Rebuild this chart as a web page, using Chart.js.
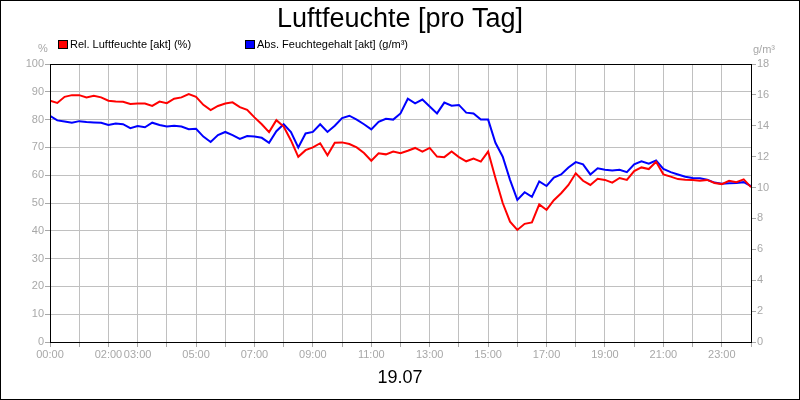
<!DOCTYPE html>
<html>
<head>
<meta charset="utf-8">
<script src="https://cdn.jsdelivr.net/npm/chart.js@4.4.1/dist/chart.umd.min.js"></script>
<style>
  html, body { margin: 0; padding: 0; background: #fff; }
</style>
</head>
<body>
<canvas id="chart1" width="800" height="400"></canvas>
<script>

var TITLE = 'Luftfeuchte [pro Tag]';
var DAY = '19.07';
var SERIES_NAMES = ['Rel. Luftfeuchte [akt] (%)', 'Abs. Feuchtegehalt [akt] (g/m³)'];
var UNITS = ['%', 'g/m³'];
var TICK_HOURS = [0, 2, 3, 5, 7, 9, 11, 13, 15, 17, 19, 21, 23];

var FONT = '"Liberation Sans", Arial, sans-serif';
var GRAY = '#a8a8a8';

// readings every 15 minutes
var times = [
  '00:00','00:15','00:30','00:45','01:00','01:15','01:30','01:45',
  '02:00','02:15','02:30','02:45','03:00','03:15','03:30','03:45',
  '04:00','04:15','04:30','04:45','05:00','05:15','05:30','05:45',
  '06:00','06:15','06:30','06:45','07:00','07:15','07:30','07:45',
  '08:00','08:15','08:30','08:45','09:00','09:15','09:30','09:45',
  '10:00','10:15','10:30','10:45','11:00','11:15','11:30','11:45',
  '12:00','12:15','12:30','12:45','13:00','13:15','13:30','13:45',
  '14:00','14:15','14:30','14:45','15:00','15:15','15:30','15:45',
  '16:00','16:15','16:30','16:45','17:00','17:15','17:30','17:45',
  '18:00','18:15','18:30','18:45','19:00','19:15','19:30','19:45',
  '20:00','20:15','20:30','20:45','21:00','21:15','21:30','21:45',
  '22:00','22:15','22:30','22:45','23:00','23:15','23:30','23:45',
  '24:00'
];

// %
var relHum = [
  86.8, 86.0, 88.2, 88.8, 88.8, 88.0, 88.6, 88.0,
  86.8, 86.5, 86.4, 85.6, 85.8, 85.8, 84.9, 86.5,
  85.9, 87.5, 88.0, 89.2, 88.2, 85.3, 83.4, 84.9,
  85.8, 86.2, 84.5, 83.5, 80.8, 78.3, 75.5, 79.8,
  77.5, 72.5, 66.6, 69.0, 70.0, 71.5, 67.2, 71.7,
  71.8, 71.2, 70.0, 68.0, 65.2, 67.9, 67.5, 68.5,
  67.9, 68.8, 69.8, 68.5, 69.8, 66.7, 66.5, 68.5,
  66.5, 65.0, 66.0, 64.9, 68.5, 59.0, 50.0, 43.3,
  40.3, 42.5, 43.0, 49.5, 47.5, 51.0, 53.5, 56.5,
  60.7, 58.0, 56.5, 58.7, 58.3, 57.3, 59.0, 58.3,
  61.5, 62.8, 62.2, 64.8, 60.3, 59.5, 58.6, 58.4,
  58.3, 58.0, 58.3, 57.2, 56.8, 58.0, 57.5, 58.5,
  55.7
];

// g/m³
var absHum = [
  14.65, 14.35, 14.27, 14.20, 14.30, 14.25, 14.22, 14.20,
  14.05, 14.15, 14.10, 13.85, 13.98, 13.90, 14.20, 14.05,
  13.95, 14.00, 13.95, 13.78, 13.80, 13.30, 12.95, 13.40,
  13.60, 13.40, 13.15, 13.34, 13.30, 13.22, 12.90, 13.65,
  14.10, 13.60, 12.60, 13.50, 13.60, 14.10, 13.60, 14.00,
  14.50, 14.65, 14.40, 14.10, 13.77, 14.25, 14.45, 14.40,
  14.80, 15.75, 15.45, 15.70, 15.25, 14.80, 15.50, 15.30,
  15.35, 14.85, 14.80, 14.40, 14.40, 12.90, 12.00, 10.50,
  9.20, 9.70, 9.40, 10.40, 10.10, 10.65, 10.85, 11.30,
  11.65, 11.50, 10.85, 11.25, 11.15, 11.10, 11.15, 11.00,
  11.50, 11.70, 11.55, 11.75, 11.20, 11.00, 10.85, 10.70,
  10.62, 10.60, 10.50, 10.32, 10.25, 10.28, 10.30, 10.35,
  10.10
];

function toHours(t) {
  var p = t.split(':');
  return +p[0] + p[1] / 60;
}

function points(values) {
  return values.map(function (v, i) { return {x: toHours(times[i]), y: v}; });
}

function two(n) { return (n < 10 ? '0' : '') + n; }

// frame, title, legend, units and date
var decorations = {
  id: 'decorations',
  afterDraw: function (chart) {
    var ctx = chart.ctx;
    var a = chart.chartArea;
    ctx.save();

    ctx.strokeStyle = '#000';
    ctx.lineWidth = 1;
    ctx.strokeRect(Math.round(a.left) + 0.5, Math.round(a.top) + 0.5,
      Math.round(a.right - a.left), Math.round(a.bottom - a.top));
    ctx.strokeRect(0.5, 0.5, 799, 399);

    ctx.fillStyle = '#000';
    ctx.textBaseline = 'alphabetic';
    ctx.textAlign = 'center';
    ctx.font = '27px ' + FONT;
    ctx.fillText(TITLE, 400, 27);

    ctx.font = '18px ' + FONT;
    ctx.fillText(DAY, 400, 383);

    var legendX = [59, 246];
    var colors = ['#ff0000', '#0000ff'];
    ctx.font = '11px ' + FONT;
    ctx.textAlign = 'left';
    SERIES_NAMES.forEach(function (name, i) {
      ctx.fillStyle = colors[i];
      ctx.fillRect(legendX[i], 41, 8, 7);
      ctx.strokeStyle = '#000';
      ctx.strokeRect(legendX[i] - 0.5, 40.5, 9, 8);
      ctx.fillStyle = '#000';
      ctx.fillText(name, legendX[i] + 11, 48);
    });

    ctx.fillStyle = GRAY;
    ctx.font = '11px ' + FONT;
    ctx.textAlign = 'center';
    ctx.fillText(UNITS[0], 43, 52);
    ctx.textAlign = 'left';
    ctx.fillText(UNITS[1], 753, 53);

    ctx.restore();
  }
};

var tickFont = {family: FONT, size: 11};

new Chart(document.getElementById('chart1'), {
  type: 'line',
  data: {
    datasets: [
      {
        label: SERIES_NAMES[0],
        data: points(relHum),
        borderColor: '#ff0000',
        borderWidth: 2,
        pointRadius: 0,
        tension: 0,
        yAxisID: 'y'
      },
      {
        label: SERIES_NAMES[1],
        data: points(absHum),
        borderColor: '#0000ff',
        borderWidth: 2,
        pointRadius: 0,
        tension: 0,
        yAxisID: 'y2'
      }
    ]
  },
  options: {
    responsive: false,
    animation: false,
    layout: {padding: {top: 64, left: 0, right: 0, bottom: 0}},
    plugins: {
      legend: {display: false},
      title: {display: false},
      tooltip: {enabled: false}
    },
    scales: {
      x: {
        type: 'linear',
        min: 0,
        max: 24,
        afterFit: function (s) { s.height = 58; },
        border: {display: false},
        grid: {color: '#c0c0c0', tickColor: GRAY, tickLength: 5},
        ticks: {
          stepSize: 1,
          maxTicksLimit: 30,
          autoSkip: false,
          maxRotation: 0,
          padding: 1,
          color: GRAY,
          font: tickFont,
          callback: function (v) {
            return TICK_HOURS.indexOf(v) >= 0 ? two(v) + ':00' : '';
          }
        }
      },
      y: {
        position: 'left',
        min: 0,
        max: 100,
        afterFit: function (s) { s.width = 50; },
        border: {display: false},
        grid: {color: '#c0c0c0', tickColor: GRAY, tickLength: 5},
        ticks: {stepSize: 10, padding: 1, color: GRAY, font: tickFont}
      },
      y2: {
        position: 'right',
        min: 0,
        max: 18,
        afterFit: function (s) { s.width = 49; },
        border: {display: false},
        grid: {drawOnChartArea: false, tickColor: GRAY, tickLength: 5},
        ticks: {stepSize: 2, padding: 1, color: GRAY, font: tickFont}
      }
    }
  },
  plugins: [decorations]
});
</script>
</body>
</html>
